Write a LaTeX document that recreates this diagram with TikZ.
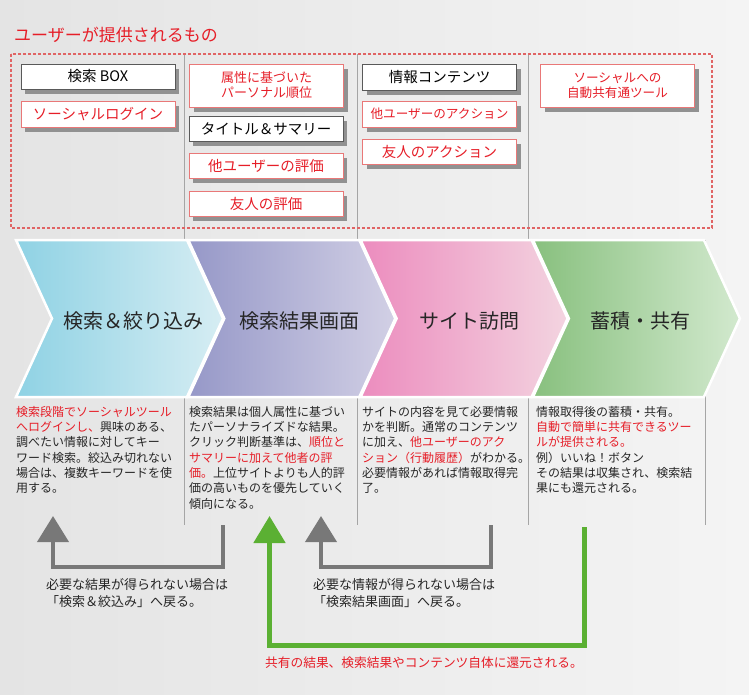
\documentclass[tikz,border=0pt]{standalone}
\usepackage{fontspec}
\setmainfont{Noto Sans CJK JP}
\usepackage{xcolor}
\usepackage{tikz}
\usetikzlibrary{arrows.meta,positioning}
\definecolor{uired}{RGB}{230,30,40}
\definecolor{boxred}{RGB}{233,120,120}
\definecolor{dashred}{RGB}{224,100,100}
\definecolor{boxshade}{RGB}{145,145,145}
\definecolor{divgray}{RGB}{165,165,165}
\definecolor{retgray}{RGB}{120,120,120}
\definecolor{retgreen}{RGB}{91,176,51}
\definecolor{bgL}{RGB}{228,228,228}
\definecolor{bgR}{RGB}{244,244,244}
\definecolor{chAl}{RGB}{143,210,228}
\definecolor{chAr}{RGB}{214,237,243}
\definecolor{chBl}{RGB}{150,152,200}
\definecolor{chBr}{RGB}{210,208,229}
\definecolor{chCl}{RGB}{236,140,190}
\definecolor{chCr}{RGB}{243,212,224}
\definecolor{chDl}{RGB}{136,192,126}
\definecolor{chDr}{RGB}{210,233,206}
\tikzset{
  itembox/.style={draw=black!65, fill=white, minimum width=154pt, minimum height=25.5pt, inner sep=1pt, align=center,
    font=\fontsize{14.5}{17}\selectfont},
  itemred/.style={itembox, draw=boxred, text=uired},
  boxshadow/.style={fill=boxshade},
  divider/.style={draw=divgray, line width=0.8pt},
  dashbox/.style={draw=dashred, line width=1.1pt, dash pattern=on 3pt off 2pt},
  stage/.style={font=\fontsize{20}{24}\selectfont, text=black!85},
  desc/.style={anchor=north west, inner sep=0pt, align=left, font=\fontsize{12}{15.3}\selectfont, text=black!85},
  note/.style={anchor=north west, inner sep=0pt, align=left, font=\fontsize{13}{17}\selectfont, text=black!85},
  grayret/.style={draw=retgray, line width=4pt, line join=miter, -{Triangle[width=31pt,length=26pt]}},
  greenret/.style={draw=retgreen, line width=5pt, line join=miter, -{Triangle[width=31pt,length=27pt]}},
}
\begin{document}
\begin{tikzpicture}[x=1pt,y=-1pt]
  \useasboundingbox (0,0) rectangle (749,695);
  \shade[left color=bgL, right color=bgR] (0,0) rectangle (749,695);
  \node[anchor=west, inner sep=0pt, text=uired, font=\fontsize{17}{20}\selectfont] (heading) at (14,35) {ユーザーが提供されるもの};
  \foreach \x in {184,357,528} {\draw[divider] (\x,54) -- (\x,525);}
  \draw[divider] (705,240) -- (705,525);
  \draw[dashbox] (11,54) rectangle (712,228);
  % process chevrons
  \foreach \i/\tx/\cl/\cr/\nm/\txt in {0/133/chAl/chAr/search/検索＆絞り込み, 1/299/chBl/chBr/result/検索結果画面, 2/469/chCl/chCr/visit/サイト訪問, 3/640/chDl/chDr/share/蓄積・共有} {
    \shade[left color=\cl, right color=\cr, draw=white, line width=2.5pt, line join=miter]
      (16+172.3*\i,240) -- ++(171,0) -- ++(36,78.5) -- ++(-36,78.5) -- ++(-171,0) -- ++(36,-78.5) -- cycle;
    \node[stage] (\nm) at (\tx,321) {\txt};
  }
  % shadows under the boxes
  \foreach \cx/\cy/\h in {98/76.5/25.5, 98/114/25.5, 266.5/85.5/43, 266/128.5/25.5, 266/165.5/25.5, 266/203.5/25.5,
      439.5/77/25.5, 439.5/114/25.5, 439.5/151.5/25.5, 617.5/85.5/43}
    \fill[boxshadow] (\cx-77+4,\cy-\h/2+5) rectangle (\cx+77+4,\cy+\h/2+5);
  % what the user is given
  \node[itembox] (boxsearch) at (98,76.5) {検索 BOX};
  \node[itemred] (boxlogin) at (98,114) {ソーシャルログイン};
  \node[itemred, minimum height=43pt, font=\fontsize{13}{15}\selectfont] (boxrank) at (266.5,85.5) {属性に基づいた\\パーソナル順位};
  \node[itembox] (boxtitle) at (266,128.5) {タイトル＆サマリー};
  \node[itemred] (boxother) at (266,165.5) {他ユーザーの評価};
  \node[itemred] (boxfriend) at (266,203.5) {友人の評価};
  \node[itembox] (boxcontent) at (439.5,77) {情報コンテンツ};
  \node[itemred, font=\fontsize{12.6}{15}\selectfont] (boxotheract) at (439.5,114) {他ユーザーのアクション};
  \node[itemred] (boxfriendact) at (439.5,151.5) {友人のアクション};
  \node[itemred, minimum height=43pt, font=\fontsize{12.6}{15}\selectfont] (boxtool) at (617.5,85.5) {ソーシャルへの\\自動共有通ツール};
  % stage descriptions
  \node[desc] (descA) at (16,406) {\textcolor{uired}{検索段階でソーシャルツール}\\
    \textcolor{uired}{へログインし、}興味のある、\\
    調べたい情報に対してキー\\
    ワード検索。絞込み切れない\\
    場合は、複数キーワードを使\\
    用する。};
  \node[desc] (descB) at (189,406) {検索結果は個人属性に基づい\\
    たパーソナライズドな結果。\\
    クリック判断基準は、\textcolor{uired}{順位と}\\
    \textcolor{uired}{サマリーに加えて他者の評}\\
    \textcolor{uired}{価。}上位サイトよりも人的評\\
    価の高いものを優先していく\\
    傾向になる。};
  \node[desc] (descC) at (362,406) {サイトの内容を見て必要情報\\
    かを判断。通常のコンテンツ\\
    に加え、\textcolor{uired}{他ユーザーのアク}\\
    \textcolor{uired}{ション（行動履歴）}がわかる。\\
    必要情報があれば情報取得完\\
    了。};
  \node[desc] (descD) at (536,406) {情報取得後の蓄積・共有。\\
    \textcolor{uired}{自動で簡単に共有できるツー}\\
    \textcolor{uired}{ルが提供される。}\\
    例）いいね！ボタン\\
    その結果は収集され、検索結\\
    果にも還元される。};
  % return arrows
  \coordinate (ret1a) at (223,525);
  \coordinate (ret1b) at (53,516);
  \coordinate (ret2a) at (491,525);
  \coordinate (ret2b) at (321,516);
  \coordinate (ret3a) at (584,527);
  \coordinate (ret3b) at (269.5,516);
  \draw[greenret] (ret3a) -- (ret3a|-0,645) -| (ret3b);
  \draw[grayret] (ret1a) -- (ret1a|-0,567) -| (ret1b);
  \draw[grayret] (ret2a) -- (ret2a|-0,567) -| (ret2b);
  \node[note] (note1) at (46,578) {必要な結果が得られない場合は\\「検索＆絞込み」へ戻る。};
  \node[note] (note2) at (313,578) {必要な情報が得られない場合は\\「検索結果画面」へ戻る。};
  \node[anchor=west, inner sep=0pt, text=uired, font=\fontsize{12.7}{15}\selectfont] (note3) at (265,663) {共有の結果、検索結果やコンテンツ自体に還元される。};
\end{tikzpicture}
\end{document}
